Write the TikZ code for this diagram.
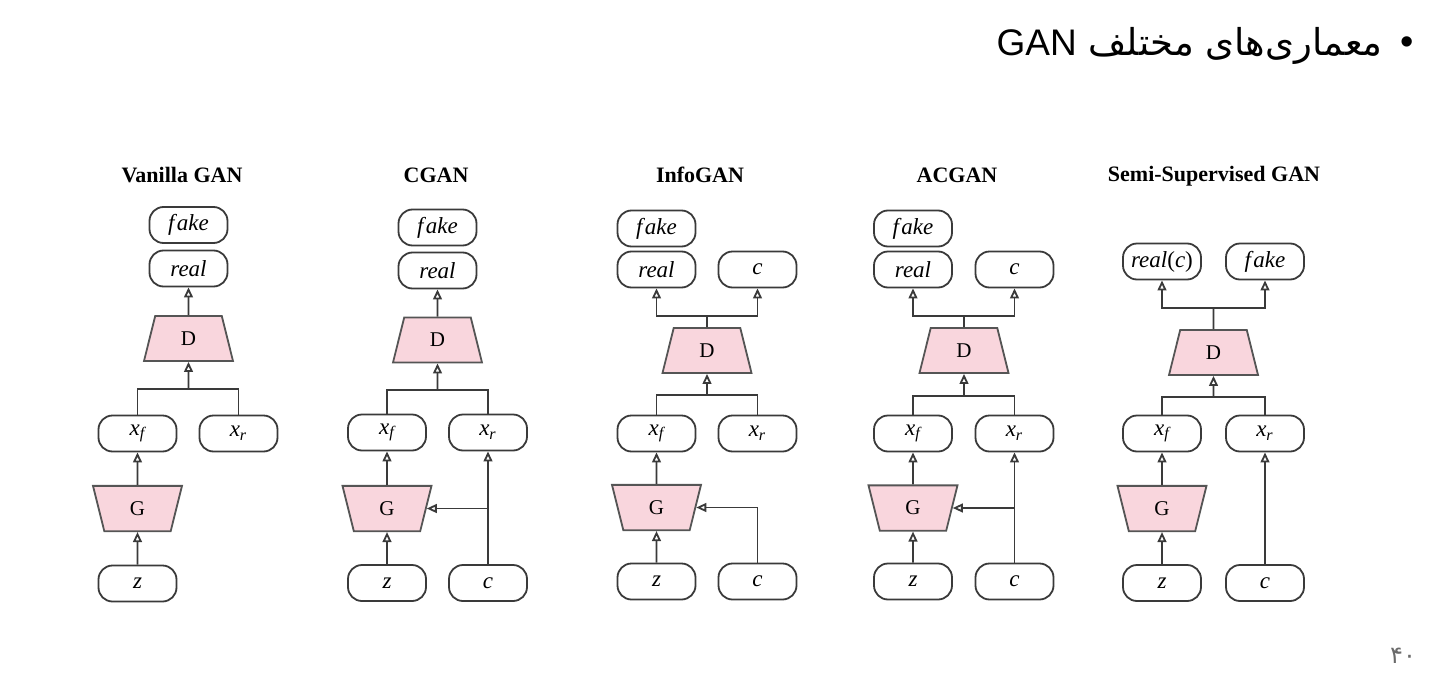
\documentclass[tikz,border=0pt]{standalone}
\usepackage{fontspec}
\setmainfont{Liberation Serif}
\newfontfamily\farsifont[Script=Arabic]{DejaVu Sans}
\newfontfamily\headsans{Liberation Sans}
\TeXXeTstate=1
\usetikzlibrary{arrows.meta,shapes.geometric}
\definecolor{ink}{HTML}{3A3A3A}
\definecolor{netpink}{HTML}{F9D6DD}
\definecolor{netedge}{HTML}{555555}
\definecolor{pagegray}{HTML}{6A6A6A}
\newcommand{\varxf}{x\textsubscript{f}}
\newcommand{\varxr}{x\textsubscript{r}}
\newcommand{\wfake}{f\kern1.2pt ake}
\tikzset{
  varbox/.style={draw=ink,line width=0.9pt,rounded corners=7pt,
                 minimum width=39pt,minimum height=18pt,inner sep=0pt,
                 font=\fontsize{11.5}{13}\selectfont\itshape},
  disc/.style={trapezium,trapezium left angle=76,trapezium right angle=76,
               trapezium stretches body,draw=netedge,fill=netpink,line width=0.9pt,
               minimum width=44.5pt,minimum height=22.5pt,inner xsep=0pt,inner ysep=7.8pt,
               font=\fontsize{10.5}{12}\selectfont},
  gen/.style={disc,trapezium left angle=104,trapezium right angle=104},
  coltitle/.style={font=\fontsize{11}{13}\selectfont\bfseries},
  flowarr/.style={-{Triangle[length=5pt,width=4.4pt,fill=white]},draw=ink,line width=0.9pt},
  wire/.style={draw=ink,line width=0.9pt}
}
\begin{document}
\begin{tikzpicture}[x=0.5pt,y=-0.5pt]
  \useasboundingbox (0,0) rectangle (1441,680);

  % slide heading and page number
  \node[anchor=east,inner sep=0pt,font=\fontsize{18.5}{22}\selectfont] (head) at (1383,46)
    {\farsifont\beginR معماری‌های مختلف \beginL{\headsans GAN}\endL\endR};
  \node[inner sep=0pt,font=\headsans\fontsize{19}{22}\selectfont] (bullet) at (1407,46) {\textbullet};
  \node[inner sep=0pt,text=pagegray,font=\farsifont\fontsize{12}{14}\selectfont] (pageno) at (1403,656) {۴۰};

  % Vanilla GAN
  \node[coltitle] (vtitle) at (182,175) {Vanilla GAN};
  \node[varbox] (vfake) at (188.5,225) {\wfake};
  \node[varbox] (vreal) at (188.5,268.5) {real};
  \node[disc] (vD) at (188.5,338.5) {D};
  \node[varbox] (vxf) at (137.5,433.5) {\varxf};
  \node[varbox] (vxr) at (238.5,433.5) {\varxr};
  \node[gen] (vG) at (137.5,508.5) {G};
  \node[varbox] (vz) at (137.5,583.5) {z};
  \coordinate (vj) at (188.5,389);
  \draw[wire] (vxf.north) |- (vj) -| (vxr.north);
  \draw[flowarr] (vj) -- (vD.south);
  \draw[flowarr] (vD.north) -- (vreal.south);
  \draw[flowarr] (vG.north) -- (vxf.south);
  \draw[flowarr] (vz.north) -- (vG.south);

  % CGAN
  \node[coltitle] (cgtitle) at (436,175) {CGAN};
  \node[varbox] (cgfake) at (437.5,227.5) {\wfake};
  \node[varbox] (cgreal) at (437.5,270.5) {real};
  \node[disc] (cgD) at (437.5,340) {D};
  \node[varbox] (cgxf) at (387,432.5) {\varxf};
  \node[varbox] (cgxr) at (488,432.5) {\varxr};
  \node[gen] (cgG) at (387,508.5) {G};
  \node[varbox] (cgz) at (387,583) {z};
  \node[varbox] (cgc) at (488,583) {c};
  \coordinate (cgj) at (437.5,390);
  \coordinate (cgbr) at (cgc.north |- cgG.east);
  \draw[wire] (cgxf.north) |- (cgj) -| (cgxr.north);
  \draw[flowarr] (cgj) -- (cgD.south);
  \draw[flowarr] (cgD.north) -- (cgreal.south);
  \draw[flowarr] (cgG.north) -- (cgxf.south);
  \draw[flowarr] (cgz.north) -- (cgG.south);
  \draw[flowarr] (cgc.north) -- (cgxr.south);
  \draw[flowarr] (cgbr) -- (cgG.east);

  % InfoGAN
  \node[coltitle] (ititle) at (700,175) {InfoGAN};
  \node[varbox] (ifake) at (656.5,228.5) {\wfake};
  \node[varbox] (ireal) at (656.5,269.5) {real};
  \node[varbox] (icout) at (757.5,269.5) {c};
  \node[disc] (iD) at (707,350.5) {D};
  \node[varbox] (ixf) at (656.5,433.5) {\varxf};
  \node[varbox] (ixr) at (757.5,433.5) {\varxr};
  \node[gen] (iG) at (656.5,507.5) {G};
  \node[varbox] (iz) at (656.5,581.5) {z};
  \node[varbox] (ic) at (757.5,581.5) {c};
  \coordinate (itop) at (707,316);
  \coordinate (ij) at (707,395);
  \draw[wire] (iD.north) -- (itop);
  \draw[flowarr] (itop) -| (ireal.south);
  \draw[flowarr] (itop) -| (icout.south);
  \draw[wire] (ixf.north) |- (ij) -| (ixr.north);
  \draw[flowarr] (ij) -- (iD.south);
  \draw[flowarr] (iG.north) -- (ixf.south);
  \draw[flowarr] (iz.north) -- (iG.south);
  \draw[flowarr] (ic.north) |- (iG.east);

  % ACGAN
  \node[coltitle] (actitle) at (957,175) {ACGAN};
  \node[varbox] (acfake) at (913,228.5) {\wfake};
  \node[varbox] (acreal) at (913,269.5) {real};
  \node[varbox] (accout) at (1014.5,269.5) {c};
  \node[disc] (acD) at (964,350.5) {D};
  \node[varbox] (acxf) at (913,433.5) {\varxf};
  \node[varbox] (acxr) at (1014.5,433.5) {\varxr};
  \node[gen] (acG) at (913,508) {G};
  \node[varbox] (acz) at (913,581.5) {z};
  \node[varbox] (acc) at (1014.5,581.5) {c};
  \coordinate (actop) at (964,316);
  \coordinate (acj) at (964,396);
  \coordinate (acbr) at (acc.north |- acG.east);
  \draw[wire] (acD.north) -- (actop);
  \draw[flowarr] (actop) -| (acreal.south);
  \draw[flowarr] (actop) -| (accout.south);
  \draw[wire] (acxf.north) |- (acj) -| (acxr.north);
  \draw[flowarr] (acj) -- (acD.south);
  \draw[flowarr] (acG.north) -- (acxf.south);
  \draw[flowarr] (acz.north) -- (acG.south);
  \draw[flowarr] (acc.north) -- (acxr.south);
  \draw[flowarr] (acbr) -- (acG.east);

  % Semi-Supervised GAN
  \node[coltitle] (stitle) at (1214,176) {Semi-Supervised GAN};
  \node[varbox] (sreal) at (1162,261.5) {real\textup{(}c\textup{)}};
  \node[varbox] (sfake) at (1265,261.5) {\wfake};
  \node[disc] (sD) at (1213.5,352.5) {D};
  \node[varbox] (sxf) at (1162,433.5) {\varxf};
  \node[varbox] (sxr) at (1265,433.5) {\varxr};
  \node[gen] (sG) at (1162,508.5) {G};
  \node[varbox] (sz) at (1162,583) {z};
  \node[varbox] (sc) at (1265,583) {c};
  \coordinate (stop) at (1213.5,308);
  \coordinate (sj) at (1213.5,397);
  \draw[wire] (sD.north) -- (stop);
  \draw[flowarr] (stop) -| (sreal.south);
  \draw[flowarr] (stop) -| (sfake.south);
  \draw[wire] (sxf.north) |- (sj) -| (sxr.north);
  \draw[flowarr] (sj) -- (sD.south);
  \draw[flowarr] (sG.north) -- (sxf.south);
  \draw[flowarr] (sz.north) -- (sG.south);
  \draw[flowarr] (sc.north) -- (sxr.south);
\end{tikzpicture}
\end{document}
